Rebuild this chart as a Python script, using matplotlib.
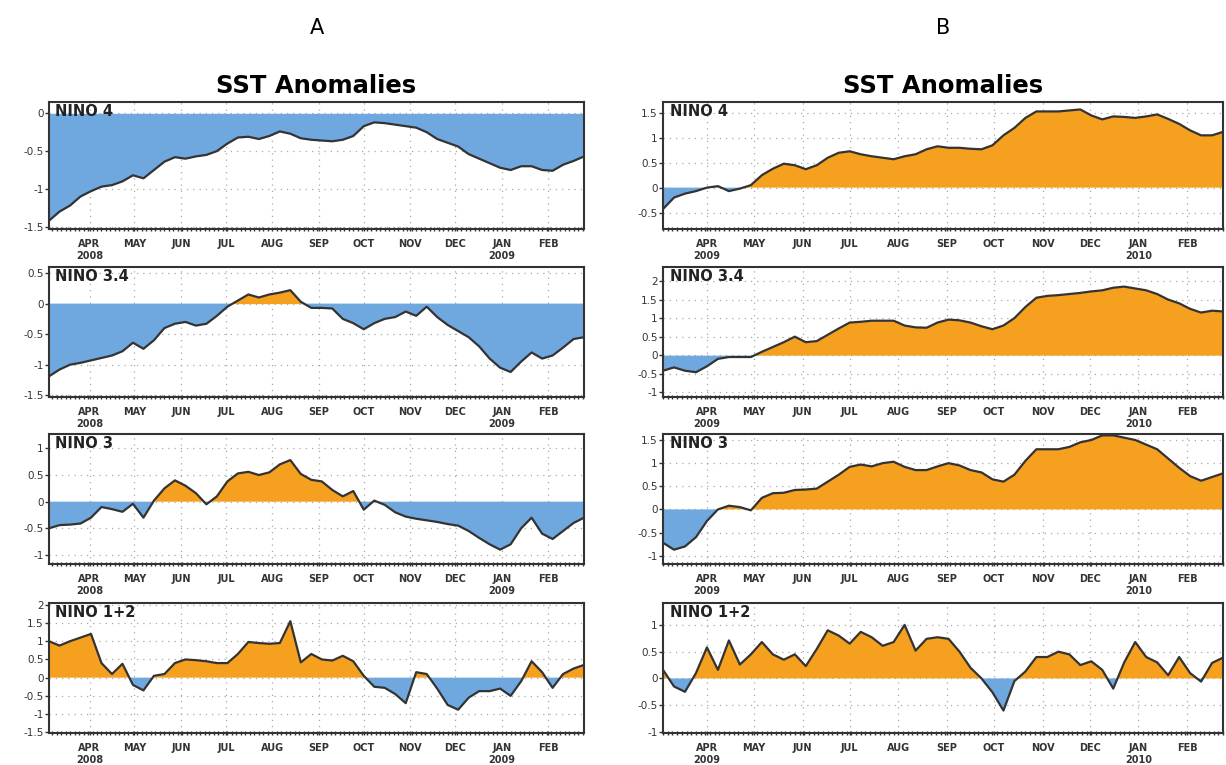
import numpy as np
import pandas as pd
import matplotlib
matplotlib.use("Agg")
import matplotlib.pyplot as plt
import matplotlib.dates as mdates
from matplotlib.ticker import FuncFormatter

plt.rcParams["axes.unicode_minus"] = False

# weekly Nino region SST anomalies (deg C)
weeks_a = pd.date_range("2008-03-05", periods=52, freq="7D")
weeks_b = pd.date_range("2009-03-04", periods=52, freq="7D")

nino4_a = [-1.42, -1.30, -1.22, -1.10, -1.03, -0.97, -0.95, -0.90, -0.82, -0.86,
           -0.75, -0.64, -0.58, -0.60, -0.57, -0.55, -0.50, -0.40, -0.32, -0.31,
           -0.34, -0.30, -0.24, -0.27, -0.33, -0.35, -0.36, -0.37, -0.35, -0.30,
           -0.17, -0.12, -0.13, -0.15, -0.17, -0.19, -0.25, -0.34, -0.39, -0.44,
           -0.54, -0.60, -0.66, -0.72, -0.75, -0.70, -0.70, -0.75, -0.76, -0.68,
           -0.63, -0.57]
nino34_a = [-1.19, -1.08, -1.00, -0.97, -0.93, -0.89, -0.85, -0.78, -0.64, -0.74,
            -0.60, -0.40, -0.33, -0.30, -0.36, -0.33, -0.20, -0.05, 0.05, 0.15,
            0.10, 0.15, 0.18, 0.22, 0.03, -0.07, -0.07, -0.08, -0.25, -0.32,
            -0.42, -0.32, -0.25, -0.22, -0.13, -0.20, -0.05, -0.22, -0.35, -0.45,
            -0.55, -0.70, -0.90, -1.05, -1.12, -0.95, -0.80, -0.90, -0.85, -0.72,
            -0.58, -0.55]
nino3_a = [-0.50, -0.44, -0.43, -0.41, -0.30, -0.10, -0.14, -0.19, -0.04, -0.30,
           0.02, 0.25, 0.40, 0.30, 0.16, -0.05, 0.10, 0.38, 0.53, 0.56,
           0.50, 0.55, 0.70, 0.78, 0.52, 0.41, 0.38, 0.22, 0.10, 0.20,
           -0.15, 0.02, -0.06, -0.20, -0.28, -0.32, -0.35, -0.38, -0.42, -0.45,
           -0.55, -0.68, -0.80, -0.90, -0.80, -0.50, -0.30, -0.60, -0.70, -0.55,
           -0.40, -0.30]
nino12_a = [1.00, 0.88, 1.00, 1.10, 1.20, 0.40, 0.10, 0.38, -0.20, -0.35,
            0.05, 0.10, 0.40, 0.50, 0.48, 0.45, 0.40, 0.40, 0.65, 0.98,
            0.95, 0.93, 0.95, 1.55, 0.42, 0.65, 0.50, 0.47, 0.60, 0.45,
            0.05, -0.25, -0.28, -0.45, -0.70, 0.15, 0.10, -0.30, -0.75, -0.88,
            -0.55, -0.37, -0.37, -0.30, -0.50, -0.10, 0.45, 0.15, -0.28, 0.10,
            0.25, 0.35]

nino4_b = [-0.43, -0.20, -0.12, -0.07, 0.00, 0.03, -0.07, -0.02, 0.05, 0.25,
           0.38, 0.48, 0.45, 0.37, 0.45, 0.60, 0.70, 0.73, 0.67, 0.63,
           0.60, 0.57, 0.63, 0.67, 0.77, 0.83, 0.80, 0.80, 0.78, 0.77,
           0.85, 1.05, 1.20, 1.40, 1.53, 1.53, 1.53, 1.55, 1.57, 1.45,
           1.37, 1.43, 1.42, 1.40, 1.43, 1.47, 1.38, 1.28, 1.15, 1.05,
           1.05, 1.12]
nino34_b = [-0.42, -0.33, -0.42, -0.46, -0.30, -0.10, -0.05, -0.05, -0.05, 0.09,
            0.22, 0.35, 0.50, 0.35, 0.38, 0.55, 0.72, 0.88, 0.90, 0.93,
            0.93, 0.93, 0.80, 0.75, 0.74, 0.88, 0.96, 0.94, 0.88, 0.78,
            0.70, 0.80, 1.00, 1.30, 1.55, 1.60, 1.62, 1.65, 1.68, 1.72,
            1.75, 1.82, 1.85, 1.80, 1.75, 1.65, 1.50, 1.40, 1.25, 1.15,
            1.20, 1.18]
nino3_b = [-0.72, -0.87, -0.80, -0.60, -0.25, 0.00, 0.08, 0.05, -0.02, 0.25,
           0.35, 0.36, 0.42, 0.43, 0.45, 0.60, 0.75, 0.92, 0.97, 0.93,
           1.00, 1.03, 0.92, 0.85, 0.85, 0.93, 1.00, 0.95, 0.85, 0.80,
           0.65, 0.60, 0.75, 1.05, 1.30, 1.30, 1.30, 1.35, 1.45, 1.50,
           1.60, 1.60, 1.55, 1.50, 1.40, 1.30, 1.10, 0.90, 0.72, 0.62,
           0.70, 0.78]
nino12_b = [0.16, -0.15, -0.25, 0.10, 0.58, 0.16, 0.71, 0.26, 0.45, 0.68,
            0.45, 0.35, 0.45, 0.23, 0.55, 0.90, 0.80, 0.65, 0.87, 0.77,
            0.61, 0.68, 1.00, 0.52, 0.74, 0.77, 0.74, 0.50, 0.20, 0.00,
            -0.26, -0.60, -0.05, 0.13, 0.40, 0.40, 0.50, 0.45, 0.25, 0.32,
            0.16, -0.19, 0.30, 0.68, 0.40, 0.30, 0.06, 0.40, 0.10, -0.06,
            0.29, 0.39]

region_names = ["NINO 4", "NINO 3.4", "NINO 3", "NINO 1+2"]
month_names = ["APR", "MAY", "JUN", "JUL", "AUG", "SEP", "OCT", "NOV", "DEC", "JAN", "FEB"]

panels = [
    ("A", weeks_a, [nino4_a, nino34_a, nino3_a, nino12_a], "2008", "2009",
     [(-1.53, 0.15), (-1.53, 0.6), (-1.17, 1.27), (-1.52, 2.05)],
     [[-1.5, -1, -0.5, 0], [-1.5, -1, -0.5, 0, 0.5], [-1, -0.5, 0, 0.5, 1],
      [-1.5, -1, -0.5, 0, 0.5, 1, 1.5, 2]]),
    ("B", weeks_b, [nino4_b, nino34_b, nino3_b, nino12_b], "2009", "2010",
     [(-0.83, 1.72), (-1.13, 2.38), (-1.18, 1.63), (-1.02, 1.41)],
     [[-0.5, 0, 0.5, 1, 1.5], [-1, -0.5, 0, 0.5, 1, 1.5, 2],
      [-1, -0.5, 0, 0.5, 1, 1.5], [-1, -0.5, 0, 0.5, 1]]),
]

ORANGE = "#F5A01E"
BLUE = "#6FA8DF"
LINE = "#333333"

fig = plt.figure(figsize=(12.26, 7.65), dpi=100)

lefts = [0.040, 0.5408]
widths = [0.4364, 0.4568]
bottoms = [0.7007, 0.4810, 0.2627, 0.0418]
heights = [0.166, 0.170, 0.170, 0.170]

for p, (letter, weeks, series, yr1, yr2, ylims, yticks) in enumerate(panels):
    cx = lefts[p] + widths[p] / 2
    fig.text(cx, 0.963, letter, ha="center", va="center", fontsize=15)
    fig.text(cx, 0.887, "SST Anomalies", ha="center", va="center",
             fontsize=17.5, fontweight="bold")

    months = pd.date_range(weeks[0] + pd.offsets.MonthBegin(1), periods=11, freq="MS")
    labels = list(month_names)
    labels[0] = labels[0] + "\n" + yr1
    labels[9] = labels[9] + "\n" + yr2

    for r in range(4):
        ax = fig.add_axes([lefts[p], bottoms[r], widths[p], heights[r]])
        y = np.array(series[r])
        ax.fill_between(weeks, y, 0, where=y >= 0, interpolate=True,
                        color=ORANGE, linewidth=0)
        ax.fill_between(weeks, y, 0, where=y <= 0, interpolate=True,
                        color=BLUE, linewidth=0)
        ax.plot(weeks, y, color=LINE, linewidth=1.6)

        ax.set_xlim(weeks[0], weeks[-1])
        ax.set_ylim(*ylims[r])
        ax.set_yticks(yticks[r])
        ax.yaxis.set_major_formatter(FuncFormatter(lambda v, pos: "%g" % v))
        ax.set_xticks(months)
        ax.set_xticklabels(labels)
        ax.xaxis.set_minor_locator(mdates.DayLocator(interval=3))

        # dotted grid sits behind the shaded anomalies
        ax.set_axisbelow(True)
        ax.grid(True, which="major", linestyle=(0, (1, 4)), color="#a8a8a8",
                linewidth=0.9)
        ax.tick_params(axis="y", labelsize=7.5, length=3, width=1,
                       pad=1, colors=LINE)
        ax.tick_params(axis="x", which="major", labelsize=7, length=3,
                       width=1, pad=6, colors=LINE, direction="inout")
        ax.tick_params(axis="x", which="minor", length=2.5, width=1.0,
                       direction="inout", colors=LINE)
        for lbl in ax.get_xticklabels():
            lbl.set_fontweight("bold")
        for s in ax.spines.values():
            s.set_linewidth(1.5)
            s.set_color(LINE)
            s.set_zorder(3)

        ax.text(0.012, 0.985, region_names[r], transform=ax.transAxes,
                ha="left", va="top", fontsize=10.5, fontweight="bold",
                color="#222222")

fig.savefig("out.png", dpi=100)
